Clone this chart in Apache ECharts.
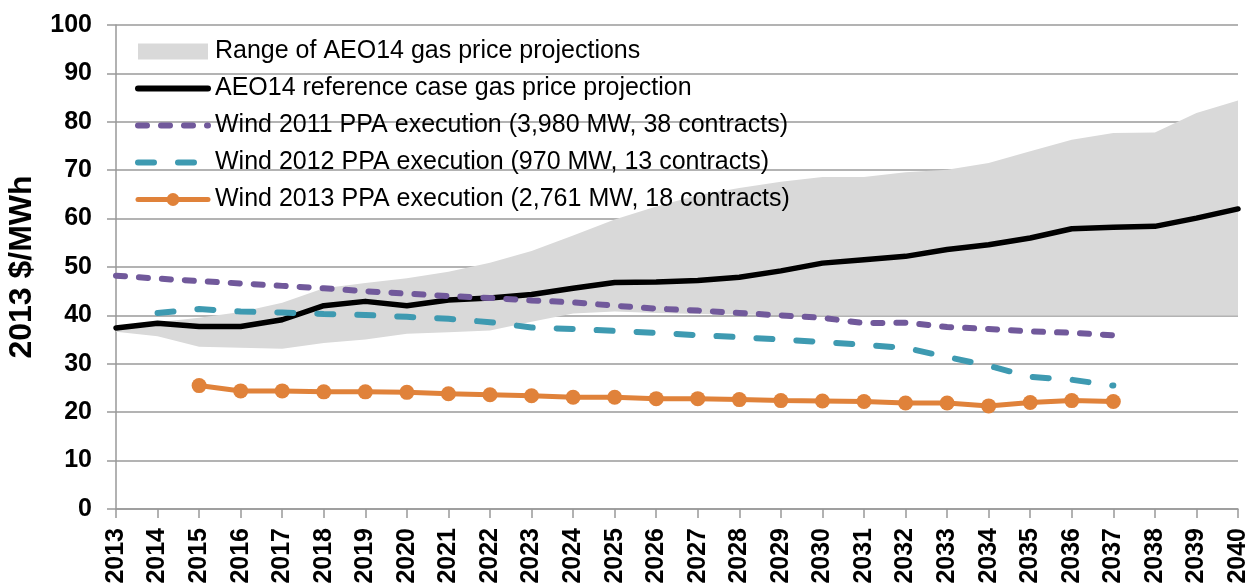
<!DOCTYPE html>
<html>
<head>
    <meta charset="utf-8">
    <title>Wind PPA vs gas price</title>
    <script src="https://cdn.jsdelivr.net/npm/echarts@6/dist/echarts.min.js"></script>
    <style>
        html, body { margin: 0; padding: 0; background: #fff; }
    </style>
</head>
<body>
    <div id="main" style="width: 1249px;height:588px;"></div>
    <script type="text/javascript">
        // years on the x axis
        var years = ['2013', '2014', '2015', '2016', '2017', '2018', '2019', '2020', '2021', '2022',
            '2023', '2024', '2025', '2026', '2027', '2028', '2029', '2030', '2031', '2032',
            '2033', '2034', '2035', '2036', '2037', '2038', '2039', '2040'];

        // AEO14 range, low and high edge
        var rangeLow = [36.6, 35.7, 33.5, 33.3, 33.1, 34.3, 35.0, 36.2, 36.5, 36.9,
            38.7, 40.4, 40.8, 40.5, 40.3, 40.2, 40.1, 40.0, 40.0, 40.0,
            40.0, 40.0, 40.0, 40.0, 40.0, 40.0, 40.0, 40.0];
        var rangeHigh = [37.9, 38.6, 39.5, 40.7, 42.6, 45.6, 46.7, 47.7, 49.0, 50.9,
            53.3, 56.5, 59.8, 62.5, 64.8, 66.3, 67.6, 68.6, 68.6, 69.6,
            70.1, 71.5, 73.9, 76.3, 77.7, 77.8, 81.8, 84.4];

        // AEO14 reference case
        var reference = [37.4, 38.4, 37.7, 37.7, 39.1, 42.0, 42.9, 42.0, 43.2, 43.6,
            44.3, 45.6, 46.8, 46.9, 47.2, 47.9, 49.2, 50.8, 51.5, 52.2,
            53.6, 54.6, 56.0, 57.9, 58.2, 58.4, 60.1, 62.0];

        // wind PPA prices
        var wind2011 = [48.2, 47.6, 47.1, 46.6, 46.1, 45.6, 45.0, 44.5, 44.0, 43.6,
            43.1, 42.7, 42.0, 41.4, 41.0, 40.5, 40.0, 39.5, 38.4, 38.5,
            37.6, 37.2, 36.7, 36.4, 35.9, null, null, null];
        var wind2012 = [null, 40.5, 41.3, 40.8, 40.6, 40.3, 40.1, 39.7, 39.3, 38.6,
            37.5, 37.2, 36.8, 36.4, 35.9, 35.5, 35.0, 34.5, 33.9, 33.3,
            31.4, 29.6, 27.3, 26.7, 25.5, null, null, null];
        var wind2013 = [null, null, 25.5, 24.4, 24.4, 24.2, 24.2, 24.1, 23.8, 23.6,
            23.4, 23.1, 23.1, 22.8, 22.8, 22.6, 22.4, 22.3, 22.2, 21.9,
            21.9, 21.3, 22.0, 22.4, 22.2, null, null, null];

        var yTicks = [0, 10, 20, 30, 40, 50, 60, 70, 80, 90, 100];

        var names = ['Range of AEO14 gas price projections',
            'AEO14 reference case gas price projection',
            'Wind 2011 PPA execution (3,980 MW, 38 contracts)',
            'Wind 2012 PPA execution (970 MW, 13 contracts)',
            'Wind 2013 PPA execution (2,761 MW, 18 contracts)'];

        var band = rangeHigh.map(function (h, i) {
            return +(h - rangeLow[i]).toFixed(2);
        });

        var font = '"Liberation Sans", Arial, sans-serif';
        var gray = '#d9d9d9', black = '#000', purple = '#71599b', teal = '#3e9ab1', orange = '#e0823a';
        var dash2011 = [9, 14], dash2012 = [16, 24];

        var myChart = echarts.init(document.getElementById('main'));

        var option = {
            animation: false,
            textStyle: { fontFamily: font, color: '#000' },
            grid: { left: 116, right: 11, top: 25, bottom: 79, outerBoundsMode: 'none', containLabel: false },
            legend: {
                orient: 'vertical',
                left: 130,
                top: 34,
                itemWidth: 70,
                itemHeight: 16,
                itemGap: 12,
                textStyle: { fontSize: 25, lineHeight: 25, color: '#000', fontFamily: font, padding: [0, 0, 0, 2] },
                data: [
                    { name: names[0], icon: 'rect' },
                    { name: names[1], itemStyle: { opacity: 0 },
                      lineStyle: { color: black, width: 6, type: 'solid', cap: 'round' } },
                    { name: names[2], itemStyle: { opacity: 0 },
                      lineStyle: { color: purple, width: 6, type: dash2011, cap: 'round' } },
                    { name: names[3], itemStyle: { opacity: 0 },
                      lineStyle: { color: teal, width: 6, type: dash2012, cap: 'round' } },
                    { name: names[4],
                      lineStyle: { color: orange, width: 5, type: 'solid', cap: 'round' } }
                ]
            },
            xAxis: {
                type: 'category',
                data: years,
                boundaryGap: false,
                axisLine: { lineStyle: { color: '#999', width: 1.5 } },
                axisTick: { show: true, interval: 0, length: 9, lineStyle: { color: '#999', width: 1.5 } },
                axisLabel: { interval: 0, rotate: 90, fontSize: 25, fontWeight: 'bold', color: '#000', margin: 19, fontFamily: font },
                splitLine: { show: false }
            },
            yAxis: {
                type: 'value',
                min: yTicks[0],
                max: yTicks[yTicks.length - 1],
                interval: 10,
                name: '2013 $/MWh',
                nameLocation: 'middle',
                nameGap: 78,
                nameTextStyle: { fontSize: 32, fontWeight: 'bold', color: '#000', fontFamily: font },
                axisLine: { show: true, lineStyle: { color: '#999', width: 1.5 } },
                axisTick: { show: true, length: 9, lineStyle: { color: '#999', width: 1.5 } },
                axisLabel: { fontSize: 25, fontWeight: 'bold', color: '#000', margin: 24, fontFamily: font },
                splitLine: { show: true, lineStyle: { color: '#9a9a9a', width: 1.5 } }
            },
            series: [
                {
                    name: 'low',
                    type: 'line',
                    stack: 'range',
                    data: rangeLow,
                    symbol: 'none',
                    silent: true,
                    lineStyle: { opacity: 0 }
                },
                {
                    name: names[0],
                    type: 'line',
                    stack: 'range',
                    data: band,
                    symbol: 'none',
                    silent: true,
                    itemStyle: { color: gray },
                    lineStyle: { width: 0, opacity: 0 },
                    areaStyle: { color: gray, opacity: 1 }
                },
                {
                    name: names[1],
                    type: 'line',
                    data: reference,
                    symbol: 'none',
                    itemStyle: { color: black },
                    lineStyle: { color: black, width: 5.5, cap: 'round', join: 'round' }
                },
                {
                    name: names[2],
                    type: 'line',
                    data: wind2011,
                    symbol: 'none',
                    itemStyle: { color: purple },
                    lineStyle: { color: purple, width: 6, type: dash2011, cap: 'round' }
                },
                {
                    name: names[3],
                    type: 'line',
                    data: wind2012,
                    symbol: 'none',
                    itemStyle: { color: teal },
                    lineStyle: { color: teal, width: 6, type: dash2012, cap: 'round' }
                },
                {
                    name: names[4],
                    type: 'line',
                    data: wind2013,
                    symbol: 'circle',
                    symbolSize: 15,
                    itemStyle: { color: orange },
                    lineStyle: { color: orange, width: 5 }
                }
            ]
        };

        myChart.setOption(option);
    </script>
</body>
</html>
